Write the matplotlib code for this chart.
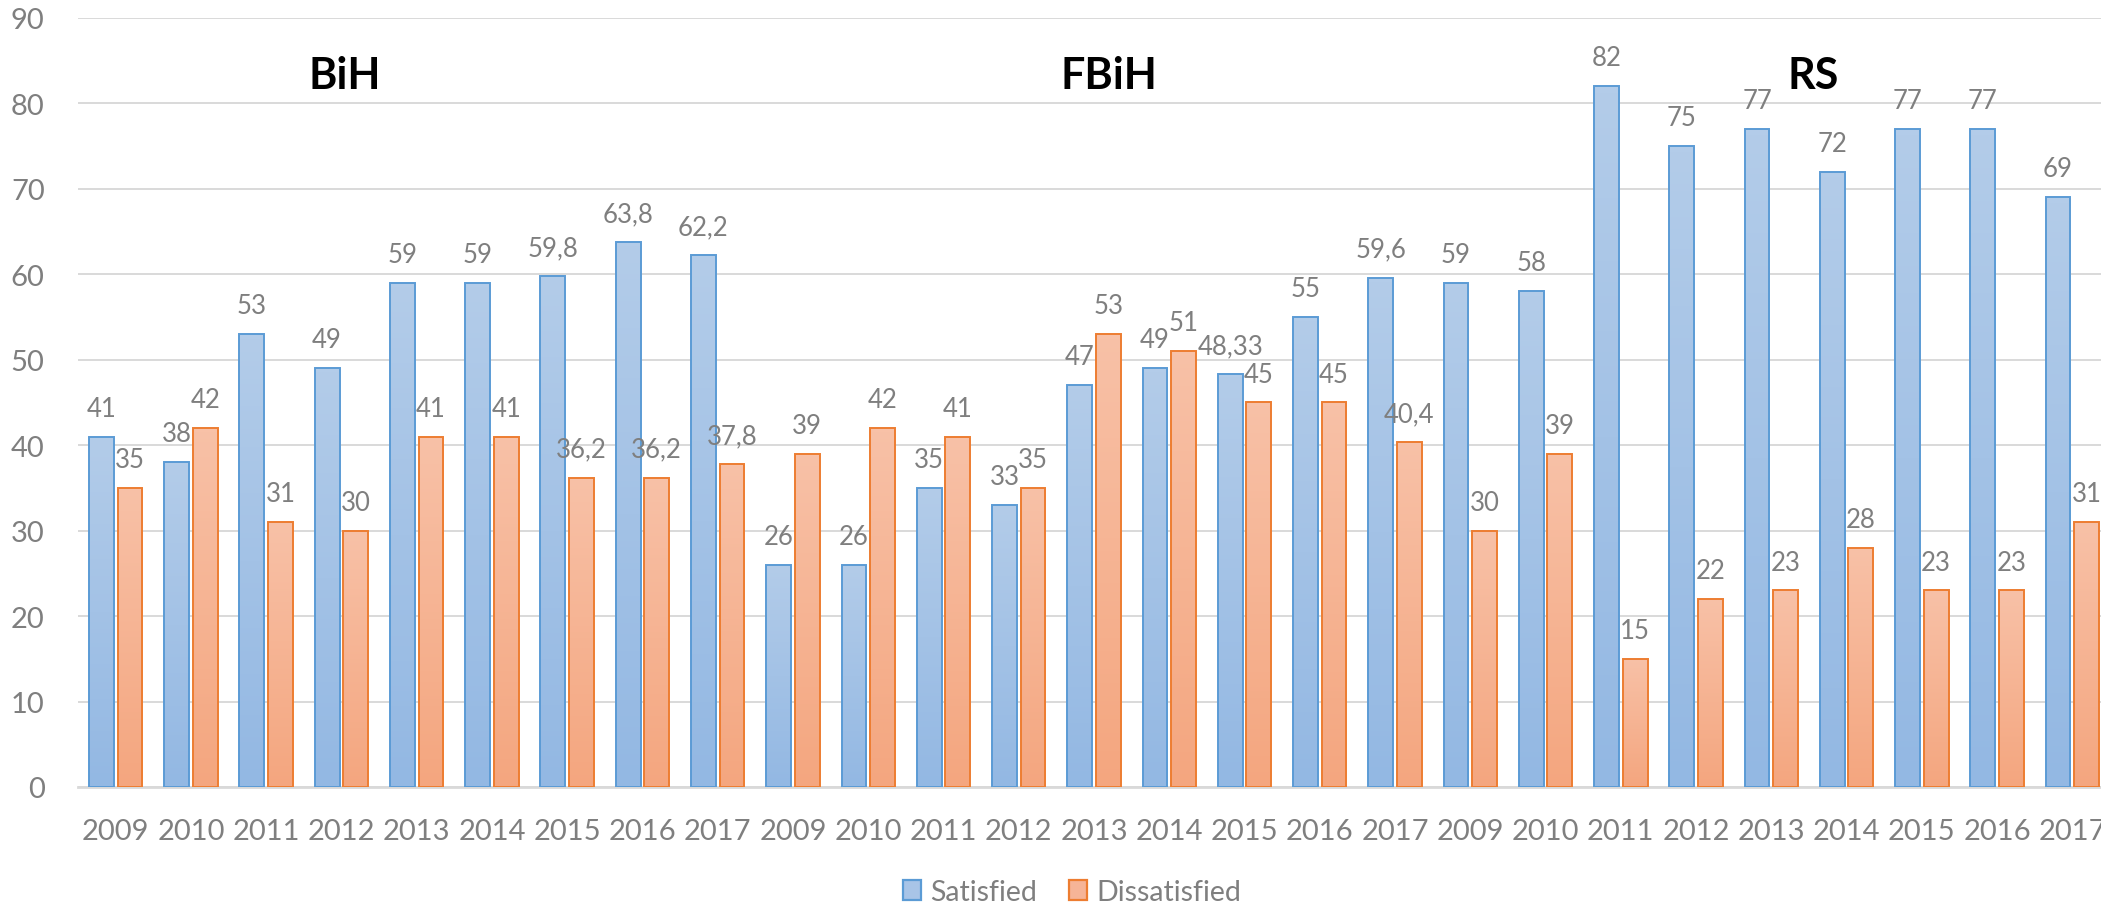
import numpy as np
import matplotlib
matplotlib.use("Agg")
import matplotlib.pyplot as plt
from matplotlib.colors import LinearSegmentedColormap
from matplotlib.patches import Patch

plt.rcParams['font.family'] = ['Lato', 'DejaVu Sans']

years = ['2009', '2010', '2011', '2012', '2013', '2014', '2015', '2016', '2017']
regions = ['BiH', 'FBiH', 'RS']

# satisfied / dissatisfied per region, 2009-2017
satisfied_bih = [41, 38, 53, 49, 59, 59, 59.8, 63.8, 62.2]
satisfied_fbih = [26, 26, 35, 33, 47, 49, 48.33, 55, 59.6]
satisfied_rs = [59, 58, 82, 75, 77, 72, 77, 77, 69]
dissatisfied_bih = [35, 42, 31, 30, 41, 41, 36.2, 36.2, 37.8]
dissatisfied_fbih = [39, 42, 41, 35, 53, 51, 45, 45, 40.4]
dissatisfied_rs = [30, 39, 15, 22, 23, 28, 23, 23, 31]

satisfied = satisfied_bih + satisfied_fbih + satisfied_rs
dissatisfied = dissatisfied_bih + dissatisfied_fbih + dissatisfied_rs
labels = years * 3

# where the region names sit (category index, value)
region_pos = [(3.05, 83.3), (13.2, 83.3), (22.55, 83.3)]

blue_edge = '#5b9bd5'
orange_edge = '#ed7d31'
blue_cmap = LinearSegmentedColormap.from_list('b', ['#93b8e3', '#b3cce9'])
orange_cmap = LinearSegmentedColormap.from_list('o', ['#f4a67f', '#f8c1a7'])
text_grey = '#7f7f7f'

fig = plt.figure(figsize=(21.01, 9.04), dpi=100)
ax = fig.add_axes([78 / 2101, 116 / 904, (2110 - 78) / 2101, (788 - 18.8) / 904])

x = np.arange(len(labels))
w = 0.33
off = 0.19


def grad_bars(xs, vals, cmap, edge):
    bars = ax.bar(xs, vals, width=w, facecolor='none', edgecolor=edge,
                  linewidth=1.4, zorder=4)
    grad = np.linspace(0, 1, 100).reshape(-1, 1)
    for b in bars:
        x0 = b.get_x()
        h = b.get_height()
        im = ax.imshow(grad, extent=[x0, x0 + w, 0, h], origin='lower',
                       aspect='auto', cmap=cmap, zorder=3)
        im.set_clip_path(b)
    return bars


b1 = grad_bars(x - off, satisfied, blue_cmap, blue_edge)
b2 = grad_bars(x + off, dissatisfied, orange_cmap, orange_edge)

for bars, vals in [(b1, satisfied), (b2, dissatisfied)]:
    for b, v in zip(bars, vals):
        ax.annotate(f"{v:g}".replace('.', ','),
                    (b.get_x() + b.get_width() / 2, v),
                    xytext=(0, 15), textcoords='offset points',
                    ha='center', va='baseline', fontsize=18.5, color=text_grey,
                    zorder=6)

for name, (px, py) in zip(regions, region_pos):
    ax.text(px, py, name, ha='center', va='center', fontsize=31,
            fontweight='bold', color='black', zorder=6)

ax.set_xlim(-0.5, len(labels) - 0.5)
ax.set_ylim(0, 90)
ax.set_yticks(range(0, 91, 10))
ax.set_xticks(x)
ax.set_xticklabels(labels)
ax.tick_params(axis='both', length=0, labelsize=21, labelcolor=text_grey)
ax.tick_params(axis='x', pad=22)
ax.tick_params(axis='y', pad=24)
ax.yaxis.grid(True, color='#d9d9d9', linewidth=1.4, zorder=0)
ax.set_axisbelow(True)
for s in ['top', 'right', 'left']:
    ax.spines[s].set_visible(False)
ax.spines['bottom'].set_color('#d9d9d9')
ax.spines['bottom'].set_linewidth(2)

handles = [Patch(facecolor='#a8c4e7', edgecolor=blue_edge, linewidth=1.6, label='Satisfied'),
           Patch(facecolor='#f6b497', edgecolor=orange_edge, linewidth=1.6, label='Dissatisfied')]
fig.legend(handles=handles, loc='center', bbox_to_anchor=(1072 / 2101, 11 / 904),
           ncol=2, frameon=False, fontsize=20.5, labelcolor=text_grey,
           handlelength=0.65, handleheight=0.65, handletextpad=0.32, columnspacing=1.1)

fig.savefig('out.png', dpi=100)
